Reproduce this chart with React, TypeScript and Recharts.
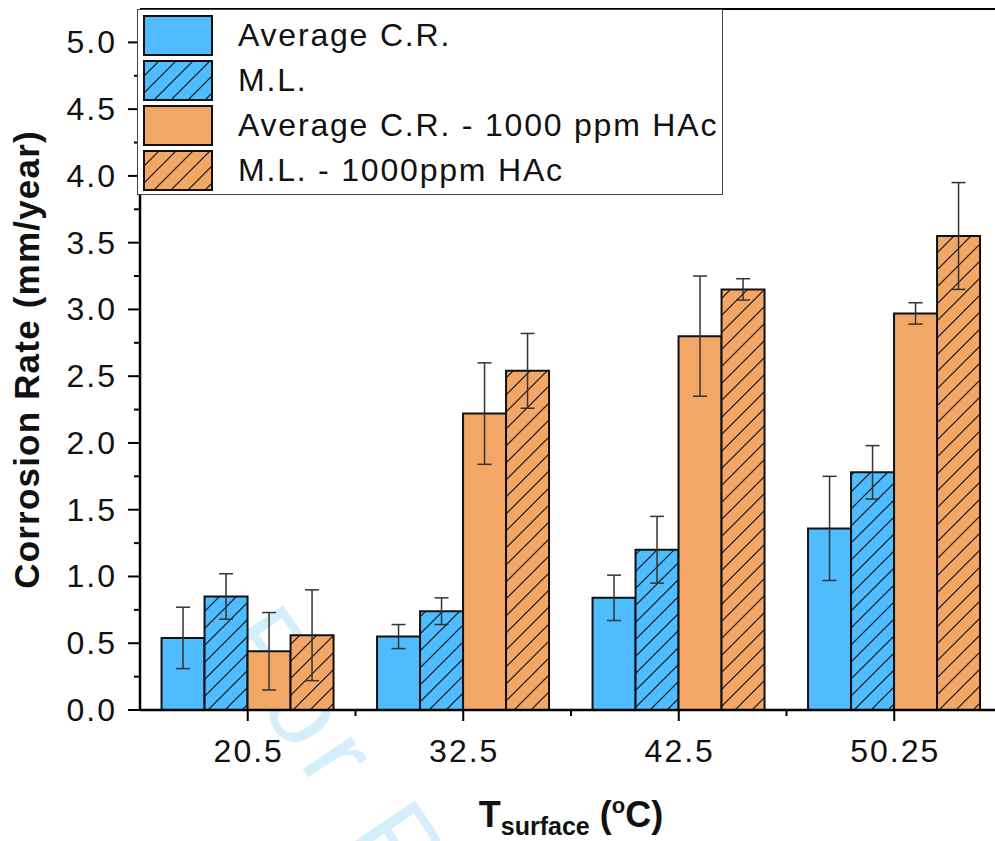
import React from 'react';
import { BarChart, Bar, XAxis, YAxis, ErrorBar, ReferenceLine, Label } from 'recharts';

const categories = ['20.5', '32.5', '42.5', '50.25'];
const avgCR = [0.54, 0.55, 0.84, 1.36];
const avgCRErr = [0.23, 0.09, 0.17, 0.39];
const massLoss = [0.85, 0.74, 1.2, 1.78];
const massLossErr = [0.17, 0.1, 0.25, 0.2];
const avgCRHAc = [0.44, 2.22, 2.8, 2.97];
const avgCRHAcErr = [0.29, 0.38, 0.45, 0.08];
const massLossHAc = [0.56, 2.54, 3.15, 3.55];
const massLossHAcErr = [0.34, 0.28, 0.08, 0.4];
const yTicks = [0, 0.25, 0.5, 0.75, 1, 1.25, 1.5, 1.75, 2, 2.25, 2.5, 2.75, 3, 3.25, 3.5, 3.75, 4, 4.25, 4.5, 4.75, 5];

const legendItems = [
  { name: 'Average C.R.', color: '#4FBCFF', hatch: false },
  { name: 'M.L.', color: '#4FBCFF', hatch: true },
  { name: 'Average C.R. - 1000 ppm HAc', color: '#F3A766', hatch: false },
  { name: 'M.L. - 1000ppm HAc', color: '#F3A766', hatch: true },
];

const data = categories.map((c, i) => ({
  temp: c,
  avg: avgCR[i],
  avgErr: avgCRErr[i],
  ml: massLoss[i],
  mlErr: massLossErr[i],
  avgHAc: avgCRHAc[i],
  avgHAcErr: avgCRHAcErr[i],
  mlHAc: massLossHAc[i],
  mlHAcErr: massLossHAcErr[i],
}));

const BLUE = '#4FBCFF';
const ORANGE = '#F3A766';
const FONT = '"Liberation Sans", Arial, sans-serif';
const CHART_W = 1010;
const PLOT_LEFT = 140;
const PLOT_W = CHART_W - 8 - PLOT_LEFT;
const BAND = PLOT_W / categories.length;

function Hatch({ id, color }: { id: string; color: string }) {
  return (
    <pattern id={id} patternUnits="userSpaceOnUse" width={17} height={17}>
      <rect width={17} height={17} fill={color} />
      <path d="M0,17 L17,0 M-4,4 L4,-4 M13,21 L21,13" stroke="#111" strokeWidth={1.2} />
    </pattern>
  );
}

function YTick(props: any) {
  const { x, y, payload } = props;
  const major = Math.abs(payload.value * 2 - Math.round(payload.value * 2)) < 1e-6;
  return (
    <g>
      <line x1={x - (major ? 12 : 6)} x2={x} y1={y} y2={y} stroke="#000" strokeWidth={2} />
      {major && (
        <text x={x - 23} y={y + 11} textAnchor="end" fontSize={32} letterSpacing={2} fontFamily={FONT} fill="#111">
          {payload.value.toFixed(1)}
        </text>
      )}
    </g>
  );
}

function XTick(props: any) {
  const { x, y, payload } = props;
  return (
    <g>
      <line x1={x} x2={x} y1={y} y2={y + 11} stroke="#000" strokeWidth={2} />
      <line x1={x + BAND / 2} x2={x + BAND / 2} y1={y} y2={y + 6} stroke="#000" strokeWidth={2} />
      <text x={x + 1} y={y + 52} textAnchor="middle" fontSize={32} letterSpacing={2} fontFamily={FONT} fill="#111">
        {payload.value}
      </text>
    </g>
  );
}

function XTitle(props: any) {
  const { viewBox } = props;
  const cx = viewBox.x + viewBox.width / 2;
  const by = viewBox.y + viewBox.height - 14;
  return (
    <text x={cx} y={by} textAnchor="middle" fontSize={36} fontWeight="bold" fontFamily={FONT} fill="#111">
      T
      <tspan fontSize={25} dy={8}>surface</tspan>
      <tspan fontSize={36} dy={-8}> (</tspan>
      <tspan fontSize={22} dy={-14}>o</tspan>
      <tspan fontSize={36} dy={14}>C)</tspan>
    </text>
  );
}

function LegendBox() {
  return (
    <div
      style={{
        position: 'absolute',
        left: 137,
        top: 9,
        width: 584,
        height: 184,
        border: '1.5px solid #444',
        background: '#fff',
        fontFamily: FONT,
        zIndex: 3,
      }}
    >
      {legendItems.map((item, i) => (
        <div key={item.name} style={{ position: 'absolute', left: 5, top: 5 + i * 45, height: 40, display: 'flex', alignItems: 'center' }}>
          <svg width={70} height={41}>
            <defs>
              <Hatch id={`lg-${i}`} color={item.color} />
            </defs>
            <rect x={1} y={1} width={68} height={39} fill={item.hatch ? `url(#lg-${i})` : item.color} stroke="#111" strokeWidth={2} />
          </svg>
          <span style={{ marginLeft: 25, fontSize: 32, letterSpacing: 1.8, color: '#111', whiteSpace: 'nowrap' }}>{item.name}</span>
        </div>
      ))}
    </div>
  );
}

export default function App() {
  return (
    <div style={{ position: 'absolute', left: 0, top: 0, width: 995, height: 841, overflow: 'hidden', background: '#fff' }}>
      <div
        style={{
          position: 'absolute',
          left: 300,
          top: 583,
          fontFamily: FONT,
          fontSize: 110,
          letterSpacing: 10,
          color: '#D4EEFB',
          transform: 'rotate(56deg)',
          transformOrigin: '0 0',
          whiteSpace: 'nowrap',
          zIndex: 0,
        }}
      >
        For Review
      </div>
      <div style={{ position: 'absolute', left: 0, top: 0, zIndex: 1 }}>
        <BarChart
          width={CHART_W}
          height={841}
          data={data}
          margin={{ top: 9, right: 8, left: 0, bottom: 0 }}
          barCategoryGap="10%"
          barGap={0}
        >
          <defs>
            <Hatch id="hatchBlue" color={BLUE} />
            <Hatch id="hatchOrange" color={ORANGE} />
          </defs>
          <XAxis
            dataKey="temp"
            height={131}
            tickSize={0}
            tickMargin={0}
            tick={<XTick />}
            axisLine={{ stroke: '#000', strokeWidth: 2.5 }}
            tickLine={false}
            interval={0}
          >
            <Label content={<XTitle />} />
          </XAxis>
          <YAxis
            width={140}
            domain={[0, 5.25]}
            ticks={yTicks}
            tickSize={0}
            tickMargin={0}
            tick={<YTick />}
            axisLine={{ stroke: '#000', strokeWidth: 2.5 }}
            tickLine={false}
            allowDataOverflow
          >
            <Label
              value="Corrosion Rate (mm/year)"
              angle={-90}
              position="insideLeft"
              offset={0}
              dx={27}
              style={{ fontSize: 35, fontWeight: 'bold', fontFamily: FONT, fill: '#111', textAnchor: 'middle', letterSpacing: 1.2 }}
            />
          </YAxis>
          <ReferenceLine y={5.25} stroke="#000" strokeWidth={2} ifOverflow="visible" />
          <Bar dataKey="avg" fill={BLUE} stroke="#111" strokeWidth={2} isAnimationActive={false}>
            <ErrorBar dataKey="avgErr" width={7} stroke="#333" strokeWidth={1.5} />
          </Bar>
          <Bar dataKey="ml" fill="url(#hatchBlue)" stroke="#111" strokeWidth={2} isAnimationActive={false}>
            <ErrorBar dataKey="mlErr" width={7} stroke="#333" strokeWidth={1.5} />
          </Bar>
          <Bar dataKey="avgHAc" fill={ORANGE} stroke="#111" strokeWidth={2} isAnimationActive={false}>
            <ErrorBar dataKey="avgHAcErr" width={7} stroke="#333" strokeWidth={1.5} />
          </Bar>
          <Bar dataKey="mlHAc" fill="url(#hatchOrange)" stroke="#111" strokeWidth={2} isAnimationActive={false}>
            <ErrorBar dataKey="mlHAcErr" width={7} stroke="#333" strokeWidth={1.5} />
          </Bar>
        </BarChart>
      </div>
      <LegendBox />
    </div>
  );
}
